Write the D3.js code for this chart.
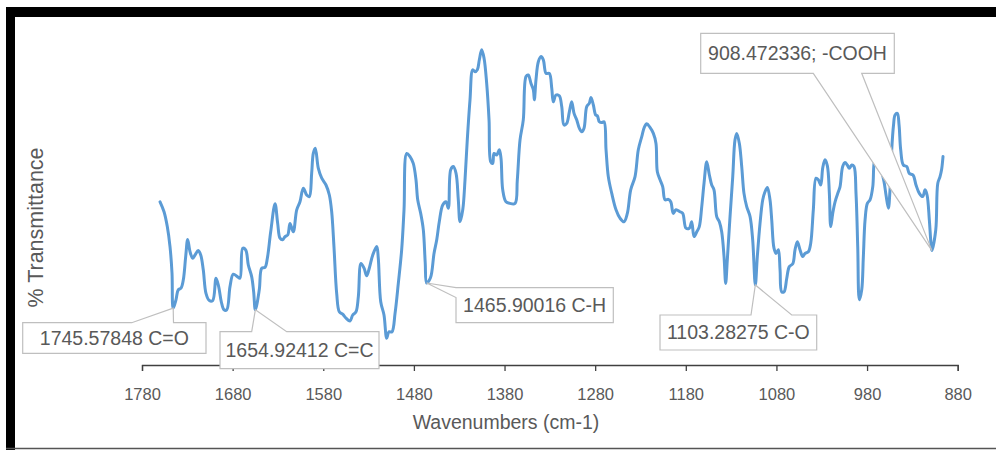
<!DOCTYPE html>
<html>
<head>
<meta charset="utf-8">
<script src="https://cdn.jsdelivr.net/npm/d3@7"></script>
<style>
  body { margin: 0; background: #fff; }
  svg { display: block; }
  text { font-family: "Liberation Sans", Arial, sans-serif; }
</style>
</head>
<body>
<div id="chart"></div>
<script>

// IR spectrum (wavenumber in cm-1, transmittance in arbitrary %)

var wavenumbers = [
    1760.1, 1755.7, 1752.1, 1749.1, 1746.9, 1745.57848, 1742.5, 1740.0, 1737.0, 1734.4,
    1731.8, 1729.6, 1727.0, 1724.1, 1721.5, 1717.9, 1715.2, 1712.4, 1709.4, 1705.7,
    1702.0, 1698.3, 1695.4, 1692.5, 1689.5, 1686.5, 1682.9, 1679.3, 1674.8, 1671.9,
    1668.9, 1665.6, 1662.7, 1659.0, 1656.8, 1654.92412, 1650.6, 1647.9, 1644.3, 1641.7,
    1638.0, 1633.2, 1630.3, 1627.7, 1624.8, 1622.2, 1619.2, 1616.7, 1613.1, 1609.3,
    1605.7, 1602.0, 1598.3, 1595.4, 1592.8, 1591.0, 1588.8, 1585.5, 1581.7, 1577.0,
    1573.3, 1570.7, 1568.2, 1565.2, 1562.3, 1558.6, 1554.9, 1550.5, 1547.5, 1543.9,
    1541.3, 1538.4, 1535.0, 1532.1, 1529.2, 1525.4, 1521.0, 1519.3, 1516.6, 1513.0,
    1510.0, 1507.5, 1504.2, 1500.8, 1497.2, 1493.5, 1490.9, 1487.9, 1484.3, 1480.7,
    1477.7, 1475.8, 1472.5, 1469.6, 1467.5, 1465.90016, 1461.7, 1457.8, 1454.8, 1452.0,
    1448.2, 1444.6, 1442.0, 1439.4, 1436.5, 1433.5, 1431.0, 1429.1, 1426.1, 1423.6,
    1421.1, 1418.1, 1415.1, 1412.6, 1410.0, 1407.8, 1405.2, 1402.6, 1399.7, 1397.1,
    1395.2, 1393.0, 1391.6, 1388.6, 1385.8, 1383.9, 1382.0, 1378.4, 1374.0, 1368.4,
    1365.9, 1362.9, 1359.3, 1356.3, 1353.8, 1350.8, 1348.2, 1347.1, 1345.3, 1342.7,
    1339.7, 1337.2, 1334.2, 1330.6, 1327.9, 1326.2, 1323.2, 1319.6, 1316.9, 1314.4,
    1311.4, 1308.5, 1305.9, 1303.3, 1300.4, 1297.5, 1294.8, 1292.3, 1289.3, 1286.5,
    1284.6, 1282.0, 1279.4, 1277.6, 1275.4, 1272.8, 1270.2, 1268.0, 1265.5, 1261.7,
    1257.0, 1252.6, 1248.2, 1244.5, 1240.8, 1236.0, 1232.4, 1228.6, 1225.8, 1223.1,
    1219.5, 1215.8, 1212.9, 1211.4, 1208.4, 1205.5, 1202.9, 1199.3, 1196.6, 1193.8,
    1190.8, 1186.4, 1183.4, 1179.8, 1176.1, 1173.5, 1170.9, 1167.9, 1165.1, 1162.4,
    1159.9, 1156.9, 1154.0, 1151.4, 1148.9, 1145.9, 1143.0, 1140.4, 1137.8, 1136.0,
    1134.2, 1131.2, 1128.2, 1125.7, 1123.8, 1120.9, 1118.3, 1115.8, 1112.8, 1109.1,
    1106.2, 1103.28275, 1101.1, 1098.1, 1095.1, 1092.6, 1090.0, 1087.1, 1085.2, 1082.7,
    1080.4, 1077.9, 1076.0, 1074.2, 1071.6, 1068.6, 1065.8, 1062.0, 1059.5, 1056.9,
    1054.0, 1051.0, 1048.4, 1044.8, 1042.2, 1039.3, 1036.3, 1033.8, 1031.1, 1028.9,
    1026.4, 1023.8, 1021.6, 1020.1, 1017.9, 1015.3, 1011.7, 1009.8, 1006.9, 1004.3,
    1001.8, 999.6, 996.9, 994.4, 992.2, 990.3, 988.5, 985.9, 984.1, 982.2,
    979.7, 976.7, 973.7, 972.3, 970.1, 965.7, 961.3, 959.1, 956.5, 954.7,
    952.8, 950.8, 949.1, 946.6, 944.7, 942.9, 940.0, 936.2, 933.4, 929.3,
    926.0, 922.3, 918.6, 916.0, 913.8, 911.3, 909.5, 908.472336, 904.2, 902.0,
    899.5, 897.8, 896.2
];

var transmittance = [
    40.8, 38.3, 34.6, 29.6, 23.0, 14.2, 16.3, 18.8, 19.2, 21.3,
    27.1, 31.4, 28.3, 26.7, 27.5, 28.6, 27.5, 23.8, 17.9, 16.1,
    16.1, 21.7, 19.6, 15.8, 13.8, 13.8, 19.6, 22.7, 22.1, 21.7,
    29.2, 28.8, 25.0, 22.1, 18.3, 13.8, 18.8, 24.2, 24.4, 26.7,
    33.3, 40.3, 35.4, 31.7, 31.3, 32.1, 32.5, 35.4, 33.3, 38.8,
    40.8, 44.2, 42.5, 42.1, 47.9, 52.9, 54.2, 49.2, 46.7, 45.0,
    42.5, 38.3, 29.6, 17.9, 13.3, 12.7, 11.7, 11.0, 12.5, 13.3,
    17.1, 25.4, 24.2, 22.3, 24.2, 27.5, 29.6, 26.7, 15.8, 12.5,
    6.7, 8.3, 8.3, 12.9, 20.4, 28.8, 38.8, 52.9, 52.1, 50.4,
    46.3, 41.3, 37.9, 33.8, 25.5, 20.5, 21.8, 27.9, 31.3, 35.8,
    40.0, 40.8, 39.2, 48.8, 49.6, 47.9, 41.3, 35.8, 38.8, 46.3,
    56.3, 66.3, 73.8, 73.3, 73.8, 76.3, 78.8, 76.7, 70.4, 61.3,
    50.8, 50.4, 52.9, 52.5, 53.8, 51.7, 43.8, 40.8, 40.4, 40.4,
    46.3, 56.3, 61.3, 72.1, 72.5, 70.4, 68.8, 66.3, 71.3, 75.8,
    77.1, 76.3, 72.9, 72.9, 69.2, 65.8, 67.5, 67.3, 64.6, 60.0,
    60.4, 63.3, 65.8, 62.9, 61.3, 59.2, 58.3, 59.2, 64.6, 65.4,
    66.9, 65.0, 62.5, 62.3, 60.8, 60.6, 60.8, 53.8, 47.1, 42.9,
    38.8, 36.7, 35.8, 37.9, 43.8, 47.1, 53.8, 57.1, 59.4, 60.3,
    59.4, 57.9, 55.4, 48.3, 46.3, 44.6, 41.3, 41.4, 40.8, 37.9,
    38.8, 38.3, 37.9, 34.2, 34.2, 35.8, 32.1, 33.3, 34.6, 39.6,
    45.4, 50.8, 47.5, 45.0, 43.8, 37.1, 35.8, 33.3, 27.1, 20.4,
    26.3, 37.1, 47.1, 56.3, 57.9, 55.4, 49.6, 42.9, 39.6, 37.1,
    31.3, 20.0, 27.1, 35.4, 41.3, 43.3, 44.4, 41.3, 36.3, 29.2,
    27.9, 28.8, 23.8, 18.3, 18.3, 21.7, 24.6, 25.3, 28.8, 30.8,
    28.8, 27.1, 27.9, 28.3, 30.4, 38.8, 46.7, 46.3, 45.0, 49.3,
    51.3, 49.8, 42.9, 34.6, 37.9, 40.8, 43.3, 44.6, 49.6, 50.6,
    50.0, 49.2, 50.0, 49.6, 42.9, 29.6, 16.3, 18.8, 27.1, 36.3,
    40.4, 41.3, 44.6, 50.4, 52.5, 50.0, 45.8, 42.5, 39.2, 43.8,
    53.8, 60.0, 62.5, 62.9, 60.0, 53.8, 50.0, 49.6, 47.9, 47.5,
    45.0, 42.9, 42.1, 43.8, 42.5, 36.3, 30.4, 28.6, 33.8, 45.4,
    47.1, 48.8, 52.1
];

var xTicks = [1780, 1680, 1580, 1480, 1380, 1280, 1180, 1080, 980, 880];

var peakWavenumbers = [1745.57848, 1654.92412, 1465.90016, 1103.28275, 908.472336];
var peakLabels = ["1745.57848 C=O", "1654.92412 C=C", "1465.90016 C-H", "1103.28275 C-O", "908.472336; -COOH"];

// Callout boxes (pixels) and where the tail meets the box

var calloutLayout = [
    { x: 22.7, y: 322.7, w: 183.3, h: 30.6, edge: "top", t1: 131.7, t2: 173.5 },
    { x: 220, y: 331.7, w: 159, h: 37, edge: "top", t1: 251.7, t2: 286.7 },
    { x: 456, y: 287.7, w: 157.3, h: 35, edge: "left", t1: 287.7, t2: 297.5 },
    { x: 660, y: 315, w: 156.7, h: 35, edge: "top", t1: 751, t2: 791.7 },
    { x: 700.7, y: 33.3, w: 193.6, h: 40, edge: "bottom", t1: 813.3, t2: 861.7 }
];

var width = 996,
    height = 450;

var svg = d3.select("#chart")
    .append("svg")
    .attr("width", width)
    .attr("height", height);

svg.append("rect")
    .attr("width", width)
    .attr("height", height)
    .attr("fill", "#fff");

// Scales

var x = d3.scaleLinear().domain([1780, 880]).range([142, 957.7]);
var y = d3.scaleLinear().domain([0, 85]).range([365, 25]);

// X axis

var xAxis = svg.append("g")
    .attr("transform", "translate(0,365)")
    .call(d3.axisBottom(x)
        .tickValues(xTicks)
        .tickFormat(d3.format("d"))
        .tickSize(6)
        .tickPadding(17.5)
        .tickSizeOuter(6));

xAxis.select(".domain").attr("stroke", "#404040").attr("stroke-width", 1.3);
xAxis.selectAll(".tick line").attr("stroke", "#404040").attr("stroke-width", 1.3);
xAxis.selectAll(".tick text")
    .attr("fill", "#595959")
    .attr("font-size", "16.5px")
    .attr("font-family", "Liberation Sans, Arial, sans-serif");

// Axis titles

svg.append("text")
    .attr("x", 506)
    .attr("y", 429)
    .attr("text-anchor", "middle")
    .attr("font-size", "19.5px")
    .attr("fill", "#595959")
    .text("Wavenumbers (cm-1)");

svg.append("text")
    .attr("transform", "translate(43,227.5) rotate(-90)")
    .attr("text-anchor", "middle")
    .attr("font-size", "21.5px")
    .attr("fill", "#595959")
    .text("% Transmittance");

// Spectrum line

var points = wavenumbers.map(function(w, i) { return [w, transmittance[i]]; });

var line = d3.line()
    .x(function(d) { return x(d[0]); })
    .y(function(d) { return y(d[1]); })
    .curve(d3.curveCatmullRom.alpha(0.5));

svg.append("path")
    .datum(points)
    .attr("fill", "none")
    .attr("stroke", "#5b9bd5")
    .attr("stroke-width", 3)
    .attr("stroke-linejoin", "round")
    .attr("stroke-linecap", "round")
    .attr("d", line);

// Callouts

function calloutPath(b, px, py) {
    var x0 = b.x, y0 = b.y, x1 = b.x + b.w, y1 = b.y + b.h;
    var p = [];
    if (b.edge === "top") {
        p = [[x0, y0], [b.t1, y0], [px, py], [b.t2, y0], [x1, y0], [x1, y1], [x0, y1]];
    } else if (b.edge === "bottom") {
        p = [[x0, y0], [x1, y0], [x1, y1], [b.t2, y1], [px, py], [b.t1, y1], [x0, y1]];
    } else {
        p = [[x0, y0], [x1, y0], [x1, y1], [x0, y1], [x0, b.t2], [px, py], [x0, b.t1]];
    }
    return "M" + p.map(function(q) { return q[0] + "," + q[1]; }).join("L") + "Z";
}

var callouts = svg.append("g");

peakWavenumbers.forEach(function(w, i) {
    var idx = wavenumbers.indexOf(w);
    var px = x(w), py = y(transmittance[idx]);
    var b = calloutLayout[i];

    callouts.append("path")
        .attr("d", calloutPath(b, px, py))
        .attr("fill", "#fff")
        .attr("stroke", "#bfbfbf")
        .attr("stroke-width", 1.2)
        .attr("stroke-linejoin", "miter");

    callouts.append("text")
        .attr("x", b.x + b.w / 2)
        .attr("y", b.y + b.h / 2)
        .attr("dy", "0.35em")
        .attr("text-anchor", "middle")
        .attr("font-size", "19.5px")
        .attr("fill", "#595959")
        .text(peakLabels[i]);
});

// Frame round the picture

svg.append("rect").attr("x", 6).attr("y", 7).attr("width", 990).attr("height", 10).attr("fill", "#000");
svg.append("rect").attr("x", 6).attr("y", 7).attr("width", 9).attr("height", 443).attr("fill", "#000");
svg.append("line")
    .attr("x1", 6).attr("x2", 996)
    .attr("y1", 448.5).attr("y2", 448.5)
    .attr("stroke", "#555")
    .attr("stroke-width", 1.5);

</script>
</body>
</html>
